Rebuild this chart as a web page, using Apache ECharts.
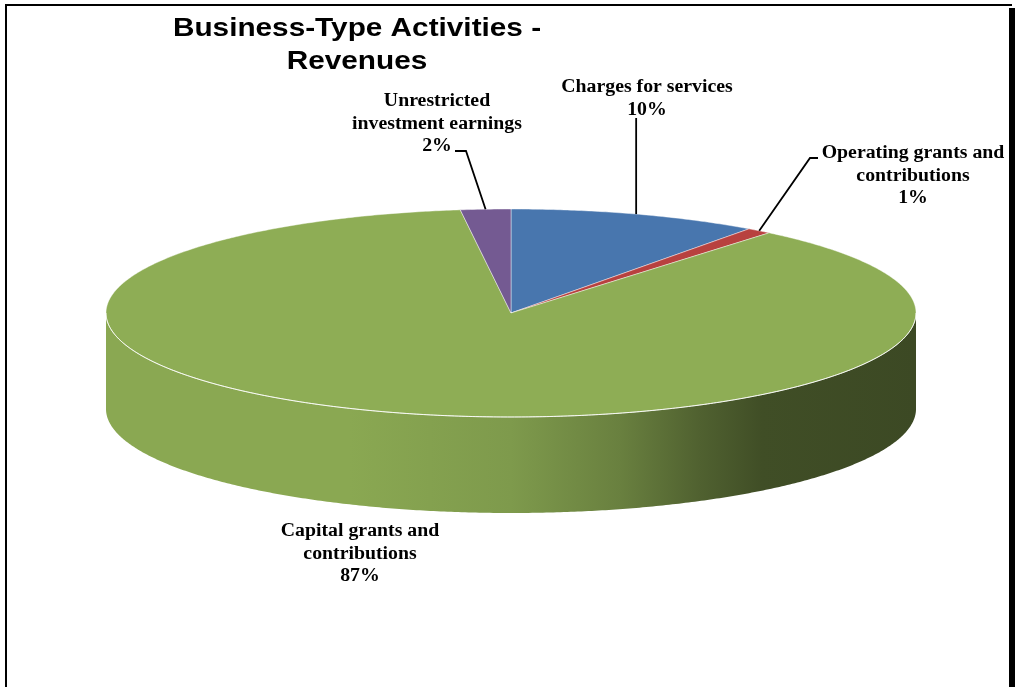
<!DOCTYPE html>
<html>
<head>
<meta charset="utf-8">
<title>Business-Type Activities - Revenues</title>
<script src="https://cdn.jsdelivr.net/npm/echarts@6/dist/echarts.min.js"></script>
<style>
  html, body { margin: 0; padding: 0; background: #ffffff; }
  #chart { width: 1015px; height: 687px; }
</style>
</head>
<body>
<div id="chart"></div>
<script>
// Revenue sources, clockwise from twelve o'clock
const categories = [
  'Charges for services',
  'Operating grants and contributions',
  'Capital grants and contributions',
  'Unrestricted investment earnings'
];
const labelNames = [
  'Charges for services',
  'Operating grants and\ncontributions',
  'Capital grants and\ncontributions',
  'Unrestricted\ninvestment earnings'
];
const shares = [10, 1, 87, 2];

// Styling
const sliceColors = ['#4876AE', '#B8413F', '#8EAD55', '#745A92'];
const disc = { cx: 511, cy: 313, rx: 405, ry: 104, depth: 96 };
// Label anchor (centre of text block) and leader bends; a null x means "straight up from the slice"
const labelLayout = [
  { pos: [647, 99],  leader: [[null, 118]] },
  { pos: [913, 176], leader: [[810, 158], [818, 158]] },
  { pos: [360, 554], leader: null },
  { pos: [437, 124], leader: [[466, 151], [455, 151]] }
];

const total = shares.reduce((a, b) => a + b, 0);
const deg = Math.PI / 180;

function rim(t, dy) {
  return [disc.cx + disc.rx * Math.sin(t), disc.cy - disc.ry * Math.cos(t) + (dy || 0)];
}
function arcPoints(a0, a1, dy) {
  const pts = [];
  const n = Math.max(2, Math.ceil((a1 - a0) / (0.5 * deg)));
  for (let i = 0; i <= n; i++) pts.push(rim(a0 + (a1 - a0) * i / n, dy));
  return pts;
}
function shade(hex, f) {
  const n = parseInt(hex.slice(1), 16);
  const r = Math.round(((n >> 16) & 255) * f);
  const g = Math.round(((n >> 8) & 255) * f);
  const b = Math.round((n & 255) * f);
  return 'rgb(' + r + ',' + g + ',' + b + ')';
}
function sideGradient(hex) {
  const stops = [[0, 0.97], [0.3, 0.97], [0.5, 0.89], [0.635, 0.74], [0.733, 0.56], [0.81, 0.45], [1, 0.42]];
  return new echarts.graphic.LinearGradient(
    disc.cx - disc.rx, 0, disc.cx + disc.rx, 0,
    stops.map(s => ({ offset: s[0], color: shade(hex, s[1]) })),
    true
  );
}

function renderSlice(params, api) {
  const idx = params.dataIndex;
  const value = api.value(0);
  let before = 0;
  for (let i = 0; i < idx; i++) before += shares[i];
  const a0 = before / total * 2 * Math.PI;
  const a1 = (before + value) / total * 2 * Math.PI;
  const color = sliceColors[idx];
  const children = [];

  // front wall: the part of the rim between 90 and 270 degrees
  const s0 = Math.max(a0, Math.PI / 2), s1 = Math.min(a1, 1.5 * Math.PI);
  if (s1 > s0) {
    const topArc = arcPoints(s0, s1, 0);
    const botArc = arcPoints(s0, s1, disc.depth).reverse();
    children.push({
      type: 'polygon', z2: 1,
      shape: { points: topArc.concat(botArc) },
      style: { fill: sideGradient(color) }
    });
    children.push({
      type: 'polyline', z2: 15,
      shape: { points: topArc },
      style: { stroke: 'rgba(255,255,255,0.85)', lineWidth: 1, fill: null }
    });
  }

  // top face
  children.push({
    type: 'polygon', z2: 10,
    shape: { points: [[disc.cx, disc.cy]].concat(arcPoints(a0, a1, 0)) },
    style: { fill: color, stroke: 'rgba(255,255,255,0.55)', lineWidth: 0.8 }
  });

  // label and leader
  const lay = labelLayout[idx];
  const anchor = rim((a0 + a1) / 2, 0);
  if (lay.leader) {
    const pts = [anchor].concat(lay.leader.map(p => [p[0] == null ? anchor[0] : p[0], p[1]]));
    children.push({
      type: 'polyline', z2: 20,
      shape: { points: pts },
      style: { stroke: '#000000', lineWidth: 1.8, fill: null }
    });
  }
  children.push({
    type: 'text', z2: 30,
    x: lay.pos[0], y: lay.pos[1], scaleX: 1.1,
    style: {
      text: labelNames[idx] + '\n' + Math.round(value) + '%',
      fontFamily: '"Liberation Serif", "Times New Roman", serif',
      fontWeight: 'bold', fontSize: 18, lineHeight: 22.5,
      fill: '#000000', align: 'center', verticalAlign: 'middle'
    }
  });

  return { type: 'group', children: children };
}

const chart = echarts.init(document.getElementById('chart'), null, { renderer: 'canvas' });
chart.setOption({
  backgroundColor: '#ffffff',
  animation: false,
  graphic: [
    { type: 'rect', shape: { x: 5, y: 4, width: 1007, height: 2 }, style: { fill: '#000' } },
    { type: 'rect', shape: { x: 5, y: 4, width: 2, height: 683 }, style: { fill: '#000' } },
    { type: 'rect', shape: { x: 1009, y: 8, width: 6, height: 679 }, style: { fill: '#000' } },
    {
      type: 'text', x: 357, y: 13, scaleX: 1.19,
      style: {
        text: 'Business-Type Activities -\nRevenues',
        fontFamily: '"Liberation Sans", Arial, sans-serif',
        fontWeight: 'bold', fontSize: 25, lineHeight: 33,
        fill: '#000000', align: 'center', verticalAlign: 'top'
      }
    }
  ],
  series: [{
    type: 'custom',
    name: 'Revenues',
    coordinateSystem: 'none',
    data: shares.map((v, i) => ({ name: categories[i], value: [v, i] })),
    renderItem: renderSlice
  }]
});
</script>
</body>
</html>
